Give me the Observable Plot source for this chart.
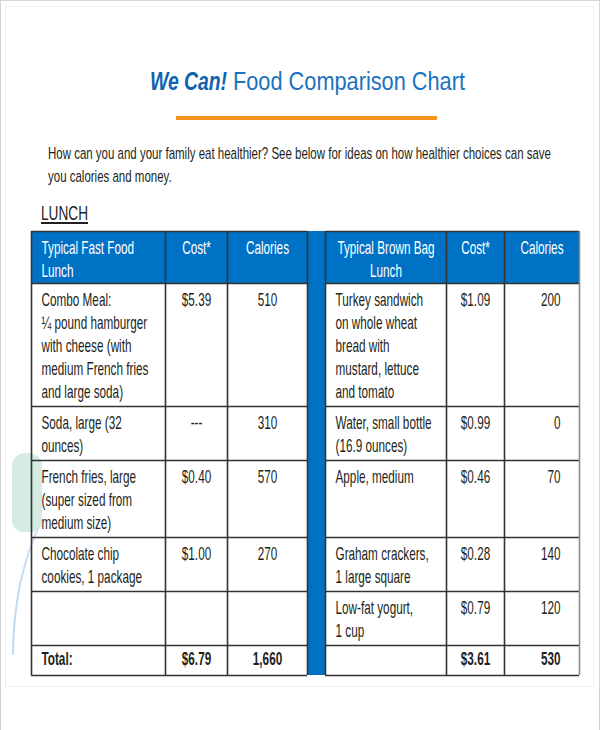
<!DOCTYPE html>
<html>
<head>
<meta charset="utf-8">
<script src="https://cdn.jsdelivr.net/npm/d3@7"></script>
<script src="https://cdn.jsdelivr.net/npm/@observablehq/plot@0.6"></script>
<style>
html, body { margin: 0; padding: 0; background: #fff; }
#page { position: relative; width: 600px; height: 730px; overflow: hidden;
  font-family: 'Liberation Sans Narrow', 'Liberation Sans', Arial, sans-serif; color: #231f20; }
.abs { position: absolute; white-space: nowrap; line-height: 1; }
.fit { display: inline-block; transform-origin: 0 50%; white-space: nowrap; }
#chart { position: absolute; left: 0; top: 225px; }
</style>
</head>
<body>
<div id="page">
  <div style="position:absolute;left:0;top:0;width:600px;height:732px;border:1px solid #d4d4d4;border-bottom:none;box-sizing:border-box;"></div>
  <div style="position:absolute;left:5px;top:6px;width:589px;height:681px;border:1px solid #f0f0f0;box-sizing:border-box;"></div>
  <div style="position:absolute;left:12px;top:453px;width:30px;height:79px;background:#d6ece3;border-radius:13px 13px 10px 12px;"></div>
  <div style="position:absolute;left:0;top:528px;width:60px;height:127px;overflow:hidden;">
    <div style="position:absolute;left:12px;top:-63px;width:200px;height:380px;border-left:2.5px solid #c0d8f1;border-radius:50%;box-sizing:border-box;"></div>
  </div>

  <div class="abs" style="left:150px;top:68px;font-size:26px;color:#0e63ae;font-weight:bold;font-style:italic;"><span class="fit" data-w="77" id="t1"></span></div>
  <div class="abs" style="left:233px;top:68px;font-size:26px;color:#1b72bf;"><span class="fit" data-w="232" id="t2"></span></div>
  <div style="position:absolute;left:176px;top:116px;width:261px;height:4px;background:#f7941d;"></div>

  <div class="abs" style="left:48px;top:145px;font-size:17px;"><span class="fit" data-w="503" id="s1"></span></div>
  <div class="abs" style="left:48px;top:168px;font-size:17px;"><span class="fit" data-like="s1" id="s2"></span></div>

  <div class="abs" style="left:41px;top:202px;font-size:21px;"><span class="fit" data-w="47" id="sec" style="text-decoration:underline;"></span></div>

  <div id="chart"></div>
</div>
<script>
// ---------- text ----------
const titleBrand = "We Can!";
const titleMain = "Food Comparison Chart";
const subtitleLines = [
  "How can you and your family eat healthier? See below for ideas on how healthier choices can save",
  "you calories and money."
];
const sectionLabel = "LUNCH";

// ---------- data ----------
const headers = ["Typical Fast Food\nLunch", "Cost*", "Calories", "Typical Brown Bag\nLunch", "Cost*", "Calories"];

const fastFoodItems = [
  "Combo Meal:\n¼ pound hamburger\nwith cheese (with\nmedium French fries\nand large soda)",
  "Soda, large (32\nounces)",
  "French fries, large\n(super sized from\nmedium size)",
  "Chocolate chip\ncookies, 1 package",
  ""
];
const fastFoodCost = [5.39, "---", 0.40, 1.00, null];
const fastFoodCalories = [510, 310, 570, 270, null];

const brownBagItems = [
  "Turkey sandwich\non whole wheat\nbread with\nmustard, lettuce\nand tomato",
  "Water, small bottle\n(16.9 ounces)",
  "Apple, medium",
  "Graham crackers,\n1 large square",
  "Low-fat yogurt,\n1 cup"
];
const brownBagCost = [1.09, 0.99, 0.46, 0.28, 0.79];
const brownBagCalories = [200, 0, 70, 140, 120];

const totalLabel = "Total:";

// ---------- layout (not data) ----------
const FONT = "'Liberation Sans Narrow','Liberation Sans',Arial,sans-serif";
const BLUE = "#0072c6";
const INK = "#231f20";
const LINE = "#333333";
const EDGES = [31, 165, 227, 307, 325, 446, 504, 579];
const COLS = [[0, 1], [1, 2], [2, 3], [4, 5], [5, 6], [6, 7]];
const TOP = 6, LINE_H = 23, FS = 18, TEXT_PAD = 6.5;
const headAnchor = ["start", "middle", "middle", "middle", "middle", "middle"];
const bodyAnchor = ["start", "middle", "middle", "start", "middle", "end"];

// ---------- HTML texts ----------
document.getElementById("t1").textContent = titleBrand;
document.getElementById("t2").textContent = titleMain;
document.getElementById("s1").textContent = subtitleLines[0];
document.getElementById("s2").textContent = subtitleLines[1];
document.getElementById("sec").textContent = sectionLabel;
const scales = {};
document.querySelectorAll(".fit[data-w]").forEach(el => {
  const w = el.getBoundingClientRect().width;
  const s = +el.dataset.w / w;
  scales[el.id] = s;
  el.style.transform = `scaleX(${s})`;
});
document.querySelectorAll(".fit[data-like]").forEach(el => {
  el.style.transform = `scaleX(${scales[el.dataset.like]})`;
});

// ---------- table geometry from data ----------
const fmtCost = v => v == null ? "" : (typeof v === "number" ? "$" + v.toFixed(2) : v);
const fmtCal = v => v == null ? "" : d3.format(",")(v);
const nLines = s => String(s).split("\n").length;

const rows = [];
rows.push({kind: "head", texts: headers, h: 6 + LINE_H * d3.max(headers, nLines)});
fastFoodItems.forEach((_, i) => {
  const texts = [fastFoodItems[i], fmtCost(fastFoodCost[i]), fmtCal(fastFoodCalories[i]),
                 brownBagItems[i], fmtCost(brownBagCost[i]), fmtCal(brownBagCalories[i])];
  rows.push({kind: "body", texts, h: 8 + LINE_H * d3.max(texts, nLines)});
});
rows.push({kind: "total", texts: [totalLabel,
  fmtCost(d3.sum(fastFoodCost, v => typeof v === "number" ? v : 0)),
  fmtCal(d3.sum(fastFoodCalories)), "",
  fmtCost(d3.sum(brownBagCost)), fmtCal(d3.sum(brownBagCalories))], h: 30});

let yy = TOP;
rows.forEach(r => { r.y1 = yy; yy += r.h; r.y2 = yy; });
const BOTTOM = yy;

function anchorX(j, anchor) {
  const x1 = EDGES[COLS[j][0]], x2 = EDGES[COLS[j][1]];
  return anchor === "start" ? x1 + 10 : anchor === "end" ? x2 - 19 : (x1 + x2) / 2;
}
const cells = rows.flatMap(r => r.texts.map((t, j) => {
  const anchor = r.kind === "head" ? headAnchor[j] : bodyAnchor[j];
  return {kind: r.kind, text: t, anchor,
    x: anchorX(j, anchor),
    y: r.kind === "total" ? (r.y1 + r.y2) / 2 - 3 : r.y1 + TEXT_PAD,
    x1: EDGES[COLS[j][0]], x2: EDGES[COLS[j][1]], y1: r.y1, y2: r.y2};
}));

const bounds = [TOP, ...rows.map(r => r.y2)];
const halves = [[EDGES[0], EDGES[3]], [EDGES[4], EDGES[7]]];
const hLines = halves.flatMap(([x1, x2]) => bounds.map(y => ({x1, x2, y})));
const vLines = EDGES.slice(0, -1).map(x => ({x, y1: TOP, y2: BOTTOM}));
const vOuter = [{x: EDGES[EDGES.length - 1], y1: TOP, y2: BOTTOM}];
const divider = [{x1: EDGES[3], x2: EDGES[4], y1: TOP, y2: BOTTOM}];

const textMark = (kind, anchor, extra = {}) => Plot.text(
  cells.filter(d => d.kind === kind && d.anchor === anchor && d.text !== ""),
  {x: "x", y: "y", text: "text", textAnchor: anchor,
   lineAnchor: kind === "total" ? "middle" : "top",
   fontSize: FS, lineHeight: LINE_H / FS, fill: INK, ...extra});

const chart = Plot.plot({
  width: 600, height: 460, margin: 0,
  x: {type: "identity", axis: null},
  y: {type: "identity", axis: null},
  style: {background: "transparent", fontFamily: FONT, overflow: "visible"},
  marks: [
    Plot.rect(cells.filter(d => d.kind === "head"), {x1: "x1", x2: "x2", y1: "y1", y2: "y2", fill: BLUE}),
    Plot.rect(divider, {x1: "x1", x2: "x2", y1: "y1", y2: "y2", fill: BLUE}),
    Plot.ruleY(hLines, {y: "y", x1: "x1", x2: "x2", stroke: LINE, strokeWidth: 1.6}),
    Plot.ruleX(vLines, {x: "x", y1: "y1", y2: "y2", stroke: LINE, strokeWidth: 1.6}),
    Plot.ruleX(vOuter, {x: "x", y1: "y1", y2: "y2", stroke: "#8a8a8a", strokeWidth: 1.6}),
    textMark("head", "start", {fill: "white"}),
    textMark("head", "middle", {fill: "white"}),
    textMark("body", "start"),
    textMark("body", "middle"),
    textMark("body", "end"),
    textMark("total", "start", {fontWeight: "bold"}),
    textMark("total", "middle", {fontWeight: "bold"}),
    textMark("total", "end", {fontWeight: "bold"})
  ]
});

// condense glyphs horizontally to match the narrow face of the original
const ctx = document.createElement("canvas").getContext("2d");
ctx.font = `${FS}px ${FONT}`;
const sx = 107 / ctx.measureText("medium French fries").width;
chart.querySelectorAll("text").forEach(t => {
  const tr = t.getAttribute("transform");
  if (tr) t.setAttribute("transform", `${tr} scale(${sx},1)`);
});

document.getElementById("chart").append(chart);
</script>
</body>
</html>
